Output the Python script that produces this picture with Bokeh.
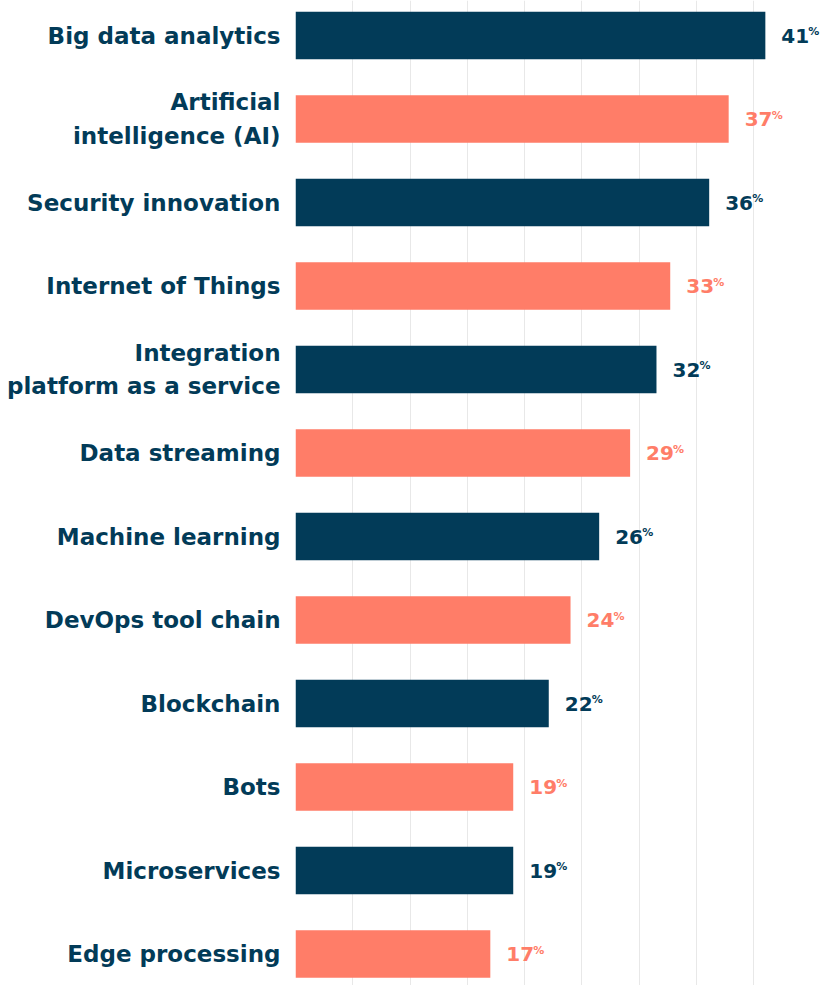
from bokeh.plotting import figure
from bokeh.models import Range1d, FixedTicker, Grid, ColumnDataSource
from bokeh.embed import file_html
from bokeh.resources import INLINE
from bokeh.core.properties import value

categories = [
    "Big data analytics",
    "Artificial\nintelligence (AI)",
    "Security innovation",
    "Internet of Things",
    "Integration\nplatform as a service",
    "Data streaming",
    "Machine learning",
    "DevOps tool chain",
    "Blockchain",
    "Bots",
    "Microservices",
    "Edge processing",
]
bar_values = [41.0, 37.8, 36.1, 32.7, 31.5, 29.2, 26.5, 24.0, 22.1, 19.0, 19.0, 17.0]
value_labels = ["41", "37", "36", "33", "32", "29", "26", "24", "22", "19", "19", "17"]
grid_ticks = [0, 5, 10, 15, 20, 25, 30, 35, 40]

NAVY = "#023b58"
SALMON = "#ff7d68"
FONT = "DejaVu Sans"

positions = list(range(len(categories)))
colors = [NAVY if i % 2 == 0 else SALMON for i in positions]

src = ColumnDataSource(dict(
    pos=positions,
    val=bar_values,
    label=value_labels,
    pct=["%"] * len(categories),
    color=colors,
))

p = figure(
    width=821, height=985,
    output_backend="svg", toolbar_location=None,
    x_range=Range1d(0, 45.9), y_range=Range1d(11.376, -0.42),
    min_border_left=295, min_border_right=0, min_border_top=0, min_border_bottom=0,
    x_axis_location=None, y_axis_location="left",
)
p.outline_line_color = None
p.background_fill_color = "white"
p.border_fill_color = "white"
p.center = [r for r in p.center if not isinstance(r, Grid)]
p.add_layout(Grid(dimension=0, ticker=FixedTicker(ticks=grid_ticks),
                  grid_line_color="#e8e8e8", grid_line_width=1))

ax = p.yaxis[0]
ax.ticker = FixedTicker(ticks=positions)
ax.major_label_overrides = {i: c for i, c in enumerate(categories)}
ax.axis_line_color = None
ax.major_tick_line_color = None
ax.minor_tick_line_color = None
ax.major_tick_in = 0
ax.major_tick_out = 0
ax.major_label_standoff = 15
ax.major_label_text_font = FONT
ax.major_label_text_font_style = "bold"
ax.major_label_text_font_size = "23px"
ax.major_label_text_color = NAVY
ax.major_label_text_line_height = 1.3

p.hbar(y="pos", left=0, right="val", height=0.569, fill_color="color",
       line_color=None, source=src)

p.text(x="val", y="pos", text="label", x_offset=16, text_align="left",
       text_baseline="middle", text_font=value(FONT), text_font_style="bold",
       text_font_size="20px", text_color="color", source=src)
p.text(x="val", y="pos", text="pct", x_offset=43, y_offset=-4, text_align="left",
       text_baseline="middle", text_font=value(FONT), text_font_style="bold",
       text_font_size="11px", text_color="color", source=src)

open("out.html", "w").write(file_html(p, INLINE))
